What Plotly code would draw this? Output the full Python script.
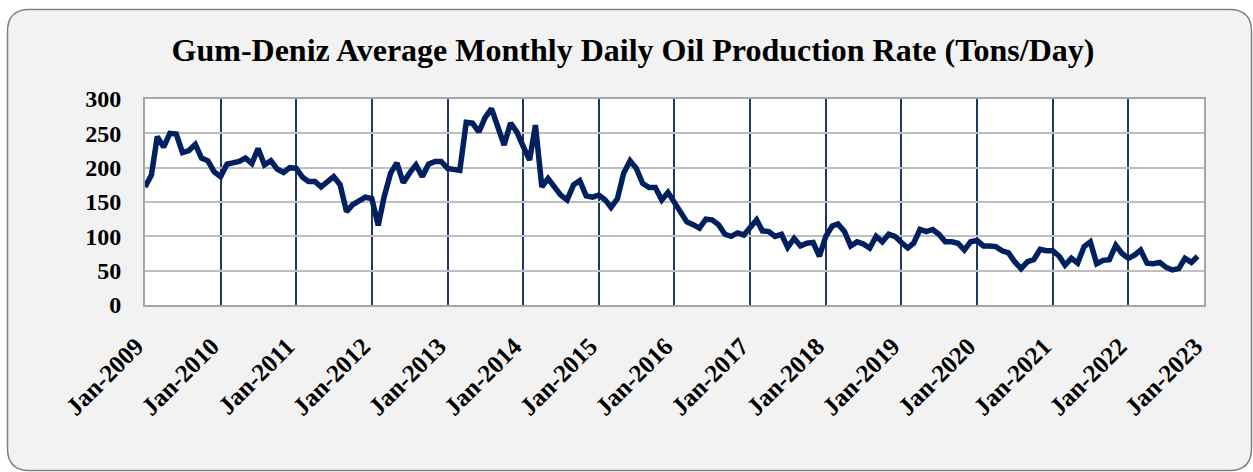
import pandas as pd
import plotly.graph_objects as go

# Average monthly daily oil production (tons/day), Jan..Dec for each year
y2009 = [172, 189, 245, 230, 250, 249, 222, 225, 234, 214, 210, 194]
y2010 = [187, 205, 207, 209, 214, 206, 228, 204, 210, 198, 193, 200]
y2011 = [199, 186, 180, 180, 172, 181, 187, 175, 136, 146, 151, 157]
y2012 = [155, 116, 158, 192, 207, 178, 192, 204, 187, 205, 209, 209]
y2013 = [199, 197, 196, 266, 265, 252, 273, 286, 260, 233, 265, 252]
y2014 = [231, 211, 262, 172, 184, 172, 160, 153, 175, 181, 159, 157]
y2015 = [160, 153, 142, 155, 192, 210, 199, 177, 171, 171, 153, 164]
y2016 = [150, 133, 121, 117, 112, 125, 124, 117, 103, 100, 105, 102]
y2017 = [113, 124, 108, 107, 100, 103, 84, 97, 86, 90, 91, 71]
y2018 = [100, 115, 118, 107, 86, 92, 89, 83, 100, 92, 103, 100]
y2019 = [91, 83, 90, 110, 107, 110, 103, 92, 92, 90, 80, 92]
y2020 = [94, 86, 86, 85, 79, 76, 63, 53, 63, 66, 81, 79]
y2021 = [79, 71, 58, 68, 61, 85, 92, 60, 65, 66, 87, 75]
y2022 = [68, 73, 80, 61, 60, 62, 55, 51, 53, 68, 62, 71]

years = [y2009, y2010, y2011, y2012, y2013, y2014, y2015,
         y2016, y2017, y2018, y2019, y2020, y2021, y2022]
values = [v for yr in years for v in yr]
months = pd.date_range("2009-01-01", periods=len(values), freq="MS")

x_tick_dates = pd.date_range("2009-01-01", "2023-01-01", freq="YS")
x_tick_labels = [f"Jan-{d.year}" for d in x_tick_dates]

title_text = "Gum-Deniz Average Monthly Daily Oil Production Rate (Tons/Day)"
y_ticks = [0, 50, 100, 150, 200, 250, 300]

FONT = "Liberation Serif, Times New Roman, serif"
W_PX, H_PX = 1253, 472
L, R, T, B = 145, 49, 99, 167
PW = W_PX - L - R
PH = H_PX - T - B


def px2paper(px, py):
    return (px - L) / PW, (H_PX - B - py) / PH


def rounded_rect_path(x0, y0, x1, y1, r):
    def p(x, y):
        a, b = px2paper(x, y)
        return f"{a:.5f},{b:.5f}"
    d = f"M {p(x0 + r, y0)} L {p(x1 - r, y0)} Q {p(x1, y0)} {p(x1, y0 + r)} "
    d += f"L {p(x1, y1 - r)} Q {p(x1, y1)} {p(x1 - r, y1)} "
    d += f"L {p(x0 + r, y1)} Q {p(x0, y1)} {p(x0, y1 - r)} "
    d += f"L {p(x0, y0 + r)} Q {p(x0, y0)} {p(x0 + r, y0)} Z"
    return d


fig = go.Figure()
fig.add_trace(go.Scatter(
    x=months, y=values, mode="lines",
    line=dict(color="#002060", width=5.5),
    hoverinfo="x+y", showlegend=False,
))

fig.add_shape(type="path", xref="paper", yref="paper", layer="below",
              path=rounded_rect_path(7.5, 9.5, 1251.5, 470.5, 22),
              fillcolor="#F2F2F2", line=dict(color="#808080", width=1.5))
fig.add_shape(type="rect", xref="paper", yref="paper", layer="below",
              x0=0, x1=1, y0=0, y1=1, fillcolor="white",
              line=dict(width=0))

fig.update_layout(
    width=W_PX, height=H_PX,
    margin=dict(l=L, r=R, t=T, b=B, pad=0),
    paper_bgcolor="white", plot_bgcolor="white",
    title=dict(text=title_text, x=633 / W_PX, xref="container", xanchor="center",
               y=1 - 50 / H_PX, yref="container", yanchor="middle",
               font=dict(family=FONT, size=32, color="black", weight="bold")),
    xaxis=dict(
        type="date", range=["2009-01-01", "2023-01-01"],
        tickvals=x_tick_dates,
        ticktext=[t + "\u00a0\u00a0" for t in x_tick_labels],
        tickangle=-45, ticks="", ticklabelstandoff=6,
        tickfont=dict(family=FONT, size=25, color="black", weight="bold"),
        showgrid=True, gridcolor="#203864", gridwidth=1.5,
        showline=True, linecolor="#A6A6A6", linewidth=2, mirror=True,
        zeroline=False,
    ),
    yaxis=dict(
        range=[0, 300], tickvals=y_ticks, ticks="", ticklabelstandoff=17,
        tickfont=dict(family=FONT, size=24, color="black", weight="bold"),
        showgrid=True, gridcolor="#BFBFBF", gridwidth=2,
        showline=True, linecolor="#A6A6A6", linewidth=2, mirror=True,
        zeroline=False,
    ),
)

fig.write_html("out.html", config={"displayModeBar": False},
               post_script="document.body.style.margin='0';")
